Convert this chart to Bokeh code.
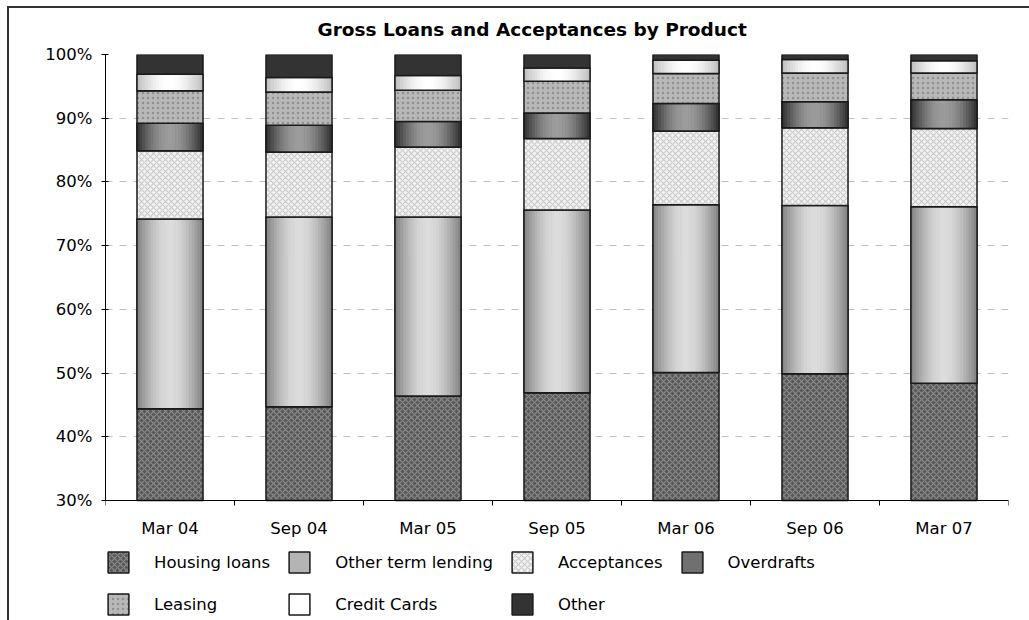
import math
from bokeh.plotting import figure
from bokeh.models import (ColumnDataSource, Range1d, FixedTicker, PrintfTickFormatter,
                          Legend, LegendItem, Title, LinearAxis)
from bokeh.transform import dodge
from bokeh.embed import file_html
from bokeh.resources import INLINE

# ---------------- data (percent of gross loans and acceptances) ----------------
categories = ["Mar 04", "Sep 04", "Mar 05", "Sep 05", "Mar 06", "Sep 06", "Mar 07"]
housing_loans      = [44.4, 44.7, 46.4, 46.9, 50.1, 49.9, 48.4]
other_term_lending = [29.8, 29.8, 28.1, 28.7, 26.3, 26.4, 27.7]
acceptances        = [10.7, 10.2, 11.0, 11.2, 11.6, 12.2, 12.3]
overdrafts         = [4.3, 4.2, 4.0, 4.0, 4.3, 4.1, 4.5]
leasing            = [5.1, 5.2, 4.9, 5.0, 4.7, 4.5, 4.2]
credit_cards       = [2.6, 2.3, 2.3, 2.1, 2.1, 2.1, 1.9]
other              = [3.1, 3.6, 3.3, 2.1, 0.9, 0.8, 1.0]
y_ticks = [30, 40, 50, 60, 70, 80, 90, 100]
title_text = "Gross Loans and Acceptances by Product"

series = [
    ("Housing loans", housing_loans),
    ("Other term lending", other_term_lending),
    ("Acceptances", acceptances),
    ("Overdrafts", overdrafts),
    ("Leasing", leasing),
    ("Credit Cards", credit_cards),
    ("Other", other),
]

# ---------------- layout constants (pixels) ----------------
W, H = 1029, 620
FRAME_L, FRAME_R, FRAME_T = 105, 1008, 54
AXIS_Y = 500                       # pixel row of the value axis floor (y_ticks[0])
y_floor, y_top = y_ticks[0], y_ticks[-1]
px_per_unit = (AXIS_Y - FRAME_T) / (y_top - y_floor)
y_start = y_floor - (H - AXIS_Y) / px_per_unit   # frame reaches the canvas bottom (legend lives there)

# ---------------- source with stacked bottoms / tops ----------------
n = len(categories)
data = {"x": list(range(n)), "cat": categories}
running = [0.0] * n
keys = []
for i, (name, vals) in enumerate(series):
    k = "s%d" % i
    keys.append(k)
    data[k + "_b"] = [max(r, y_floor) for r in running]   # bars are cut at the axis floor
    running = [r + v for r, v in zip(running, vals)]
    data[k + "_t"] = list(running)
src = ColumnDataSource(data)

FONT = "DejaVu Sans"
FS = "16.5px"
p = figure(width=W, height=H, x_range=Range1d(-0.5, n - 0.5), y_range=Range1d(y_start, y_top),
           output_backend="svg", toolbar_location=None, x_axis_location=None,
           min_border_left=FRAME_L, min_border_right=W - FRAME_R, min_border_top=FRAME_T,
           min_border_bottom=0)
p.styles = {"background": "linear-gradient(#333333, #333333) 7px 6px / 100% 2px no-repeat, "
                          "linear-gradient(#333333, #333333) 7px 6px / 2px 100% no-repeat, #ffffff"}
p.outline_line_color = None
p.background_fill_alpha = 0
p.border_fill_alpha = 0

p.title = Title(text=title_text, align="left", offset=212, standoff=30,
                text_font=FONT, text_font_size="18.5px", text_font_style="bold",
                text_color="black")

BW = 0.512
LINE = "#1a1a1a"
LW = 1.5

styles = {
    "Housing loans": dict(fill_color="#585858", hatch_pattern="diagonal_cross",
                          hatch_color="#8a8a8a", hatch_scale=6, hatch_weight=1.2),
    "Acceptances": dict(fill_color="#f3f3f3", hatch_pattern="diagonal_cross",
                        hatch_color="#cacaca", hatch_scale=6, hatch_weight=1.2),
    "Leasing": dict(fill_color="#b8b8b8", hatch_pattern="dot",
                    hatch_color="#909090", hatch_scale=5, hatch_weight=2),
    "Other": dict(fill_color="#333333"),
}
gradients = {
    "Other term lending": ((0x80, 0x80, 0x80), (0xdc, 0xdc, 0xdc), "#b4b4b4"),
    "Overdrafts": ((0x2e, 0x2e, 0x2e), (0x9c, 0x9c, 0x9c), "#707070"),
    "Credit Cards": ((0xbc, 0xbc, 0xbc), (0xff, 0xff, 0xff), "#ffffff"),
}

NSTRIP = 24
legend_r = {}
for (name, _), k in zip(series, keys):
    b, t = k + "_b", k + "_t"
    if name in gradients:
        edge, center, mid = gradients[name]
        base = p.vbar(x="x", width=BW, bottom=b, top=t, source=src,
                      fill_color=mid, line_color=LINE, line_width=LW)
        sw = BW / NSTRIP
        for j in range(NSTRIP):
            tt = (j + 0.5) / NSTRIP
            f = math.sin(math.pi * tt)
            col = "#%02x%02x%02x" % tuple(int(round(e + (c - e) * f)) for e, c in zip(edge, center))
            off = -BW / 2 + (j + 0.5) * sw
            p.vbar(x=dodge("x", off), width=sw * 1.15, bottom=b, top=t, source=src,
                   fill_color=col, line_color=None)
        p.vbar(x="x", width=BW, bottom=b, top=t, source=src,
               fill_color=None, line_color=LINE, line_width=LW)
        legend_r[name] = base
    else:
        r = p.vbar(x="x", width=BW, bottom=b, top=t, source=src,
                   line_color=LINE, line_width=LW, **styles[name])
        legend_r[name] = r

# ---------------- axes ----------------
xaxis = LinearAxis(fixed_location=y_floor,
                   ticker=FixedTicker(ticks=list(range(n)),
                                      minor_ticks=[i - 0.5 for i in range(n + 1)]),
                   major_label_overrides={i: c for i, c in enumerate(categories)})
xaxis.major_tick_line_color = None
xaxis.major_tick_in = 0
xaxis.major_tick_out = 0
xaxis.minor_tick_line_color = "black"
xaxis.minor_tick_in = 0
xaxis.minor_tick_out = 5
xaxis.major_label_standoff = 13
p.add_layout(xaxis, "below")

p.yaxis.ticker = FixedTicker(ticks=y_ticks)
p.yaxis.bounds = (y_floor, y_top)
p.yaxis.formatter = PrintfTickFormatter(format="%d%%")
p.yaxis.major_tick_in = 3
p.yaxis.major_tick_out = 4
p.yaxis.minor_tick_line_color = None
p.yaxis.major_label_standoff = 9

for ax in (xaxis, p.yaxis[0]):
    ax.axis_line_color = "black"
    ax.axis_line_width = 1
    ax.major_label_text_font = FONT
    ax.major_label_text_font_size = FS
    ax.major_label_text_color = "black"

for g in p.grid:
    if g.dimension == 0:
        g.visible = False
p.ygrid.ticker = FixedTicker(ticks=y_ticks)
p.ygrid.grid_line_color = "#c0c0c0"
p.ygrid.grid_line_dash = "7 7"
p.ygrid.grid_line_width = 1

# ---------------- legend: 4 columns x 2 rows under the axis ----------------
legend = Legend(items=[LegendItem(label=nm, renderers=[legend_r[nm]]) for nm, _ in series],
                location=(0, 3), orientation="horizontal", ncols=4,
                glyph_width=26, glyph_height=26, label_standoff=23, spacing=16,
                padding=0, margin=0, border_line_color=None, background_fill_alpha=0,
                label_text_font=FONT, label_text_font_size=FS, label_text_color="black",
                label_height=26)
p.add_layout(legend)

open("out.html", "w").write(file_html(p, INLINE))
